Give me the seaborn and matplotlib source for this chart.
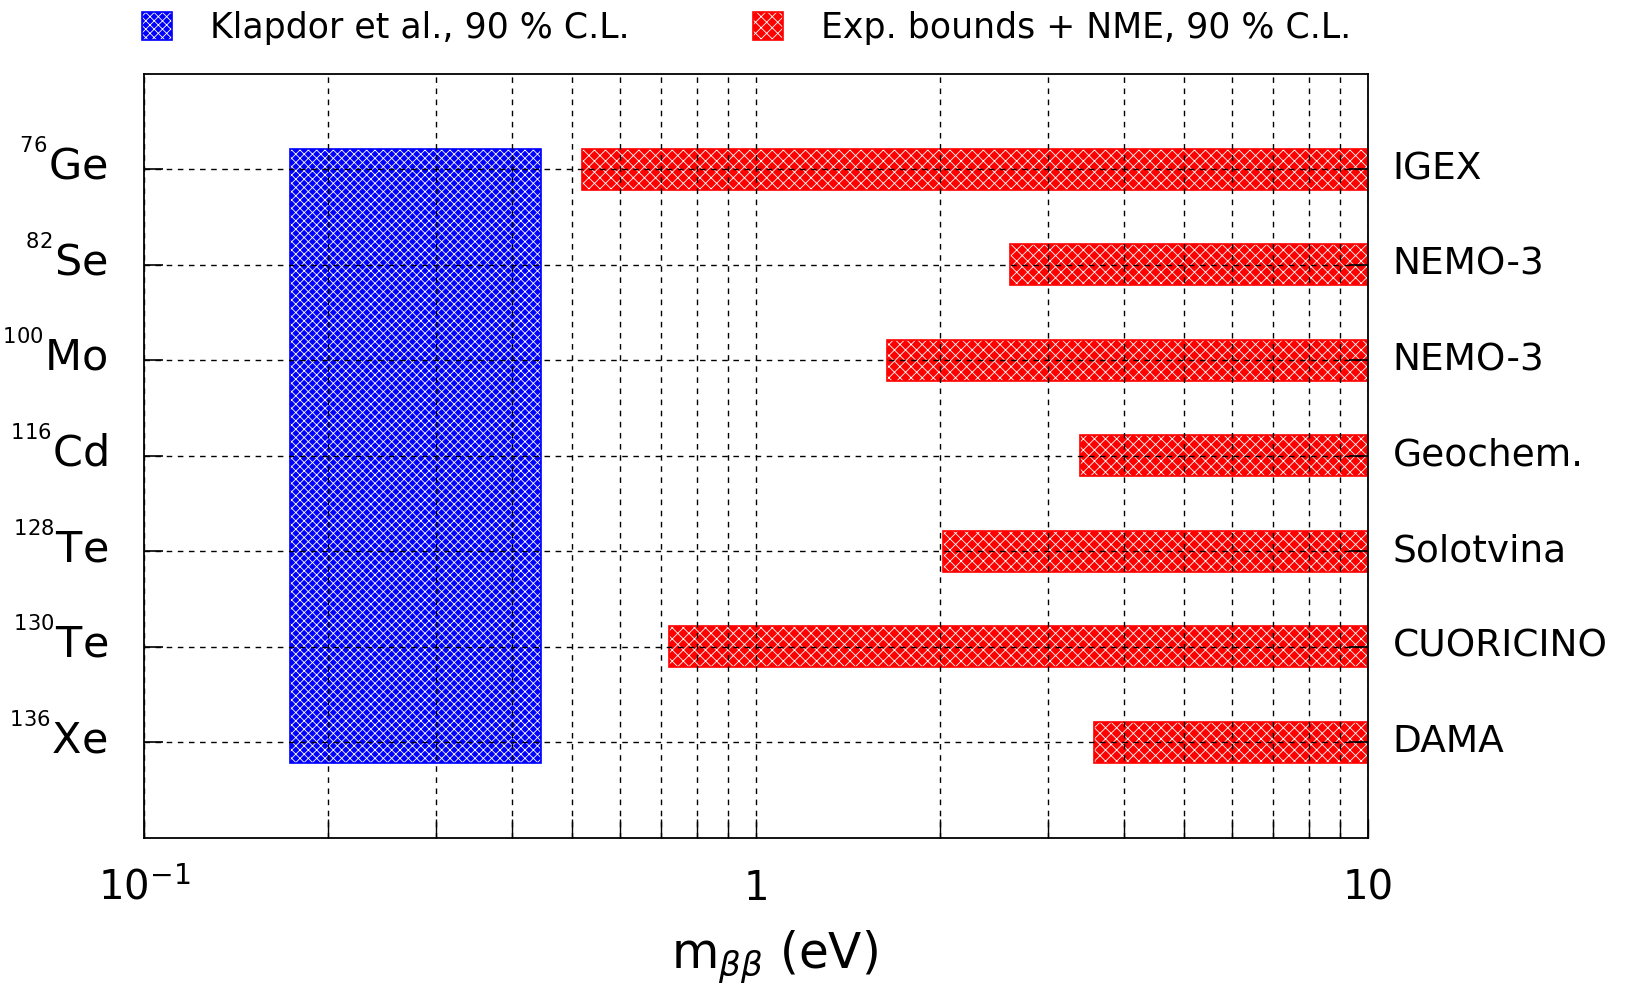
import matplotlib
matplotlib.use("Agg")
import matplotlib.pyplot as plt
import matplotlib.transforms as mtransforms
from matplotlib.patches import Patch
from matplotlib.ticker import FixedLocator, NullFormatter
import seaborn as sns

# data
isotopes = [r"$^{^{76}}$Ge", r"$^{^{82}}$Se", r"$^{^{100}}$Mo", r"$^{^{116}}$Cd",
            r"$^{^{128}}$Te", r"$^{^{130}}$Te", r"$^{^{136}}$Xe"]
experiments = ["IGEX", "NEMO-3", "NEMO-3", "Geochem.", "Solotvina",
               "CUORICINO", "DAMA"]
bound_low = [0.52, 2.60, 1.64, 3.38, 2.02, 0.72, 3.57]   # eV
bound_high = [10, 10, 10, 10, 10, 10, 10]                 # eV
klapdor_range = [0.173, 0.445]                            # eV
legend_labels = ["Klapdor et al., 90 % C.L.", "Exp. bounds + NME, 90 % C.L."]

sns.set_style("ticks")
plt.rcParams["font.family"] = ["DejaVu Sans"]
plt.rcParams["mathtext.fontset"] = "custom"
plt.rcParams["mathtext.rm"] = "DejaVu Sans"
plt.rcParams["mathtext.it"] = "DejaVu Sans:italic"
plt.rcParams["mathtext.bf"] = "DejaVu Sans:bold"
plt.rcParams["hatch.linewidth"] = 0.6
for key in ("text.color", "axes.labelcolor", "xtick.color", "ytick.color",
            "xtick.labelcolor", "ytick.labelcolor"):
    plt.rcParams[key] = "black"

RED = "#ff0000"
BLUE = "#0000ff"
BAR_H = 0.43

fig = plt.figure(figsize=(16.46, 9.90), dpi=100)
ax = fig.add_axes([0.0875, 0.1535, 0.7436, 0.7722])

rows = list(range(len(isotopes)))

# Klapdor band spanning all rows
span_h = rows[-1] - rows[0] + BAR_H
ax.barh((rows[0] + rows[-1]) / 2, klapdor_range[1] - klapdor_range[0],
        left=klapdor_range[0], height=span_h, color=BLUE,
        edgecolor="white", hatch="xxxx", linewidth=0, zorder=1)
ax.barh((rows[0] + rows[-1]) / 2, klapdor_range[1] - klapdor_range[0],
        left=klapdor_range[0], height=span_h, fill=False,
        edgecolor=BLUE, linewidth=1.2, zorder=1.1)

# experimental bounds
widths = [h - l for l, h in zip(bound_low, bound_high)]
ax.barh(rows, widths, left=bound_low, height=BAR_H, color=RED,
        edgecolor="white", hatch="xxx", linewidth=0, zorder=1)
ax.barh(rows, widths, left=bound_low, height=BAR_H, fill=False,
        edgecolor=RED, linewidth=1.2, zorder=1.1)

ax.set_xscale("log")
ax.set_xlim(0.1, 10)
ax.set_ylim(len(isotopes), -1)

ax.xaxis.set_major_locator(FixedLocator([0.1, 1, 10]))
ax.set_xticklabels([r"$10^{-1}$", "1", "10"], fontsize=29)
ax.xaxis.set_minor_locator(FixedLocator(
    [m * d for d in (0.1, 1) for m in range(2, 10)]))
ax.xaxis.set_minor_formatter(NullFormatter())

ax.set_yticks(rows)
ax.set_yticklabels(isotopes, fontsize=31)

ax.tick_params(axis="x", which="both", direction="in", length=14,
               width=1, top=False, pad=22, colors="black")
ax.tick_params(axis="y", which="both", direction="in", length=14,
               width=1.2, right=True, pad=26, colors="black")

# nested superscripts push the labels down a little; lift them back
lift = mtransforms.ScaledTranslation(0, 9 / 100, fig.dpi_scale_trans)
for lab in ax.get_yticklabels():
    lab.set_transform(lab.get_transform() + lift)

ax.grid(True, which="both", axis="x", color="black", linestyle=(0, (4, 4)),
        linewidth=1)
ax.grid(True, which="major", axis="y", color="black", linestyle=(0, (4, 4)),
        linewidth=1)
ax.set_axisbelow(False)

for side in ax.spines.values():
    side.set_color("black")
    side.set_linewidth(1.3)

ax.set_xlabel(r"m$_{\beta\beta}$ (eV)", fontsize=35, labelpad=14)
ax.xaxis.label.set_x(0.515)

# experiment names on the right
trans = mtransforms.blended_transform_factory(ax.transAxes, ax.transData)
for r, name in zip(rows, experiments):
    ax.text(1.020, r, name, transform=trans, ha="left", va="center",
            fontsize=27)

# legend
blue_h = (Patch(facecolor=BLUE, edgecolor="white", hatch="xxxx", linewidth=0),
          Patch(fill=False, edgecolor=BLUE, linewidth=1.2))
red_h = (Patch(facecolor=RED, edgecolor="white", hatch="xxx", linewidth=0),
         Patch(fill=False, edgecolor=RED, linewidth=1.2))
fig.legend([blue_h, red_h], legend_labels, loc="center left",
           bbox_to_anchor=(0.0863, 0.972), ncol=2, frameon=False,
           fontsize=25, handlelength=0.86, handleheight=0.86,
           handletextpad=1.1, columnspacing=3.55, borderpad=0,
           borderaxespad=0)

fig.savefig("out.png", dpi=100)
